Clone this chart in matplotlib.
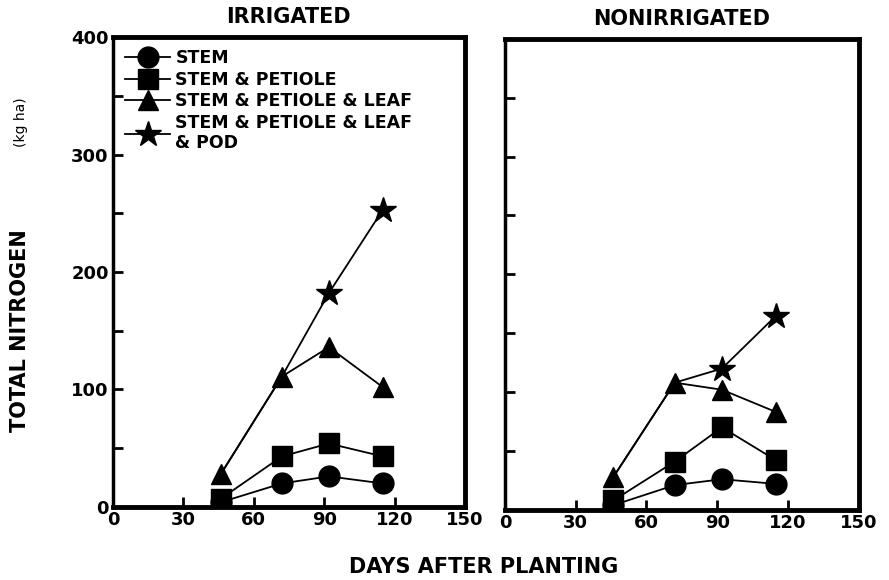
import matplotlib
matplotlib.use('Agg')
import matplotlib.pyplot as plt
from matplotlib.lines import Line2D

plt.rcParams['font.family'] = 'DejaVu Sans'
plt.rcParams['font.weight'] = 'bold'

# days after planting for each sampling
days = [46, 72, 92, 115]

# irrigated (kg/ha), cumulative by plant part
irr_stem = [4, 20, 26, 20]
irr_petiole = [7, 43, 54, 43]
irr_leaf = [28, 111, 136, 102]
irr_pod = [28, 111, 182, 253]

# nonirrigated
non_stem = [4, 21, 26, 22]
non_petiole = [8, 41, 70, 42]
non_leaf = [28, 108, 102, 83]
non_pod = [28, 108, 120, 165]

x_ticks = [0, 30, 60, 90, 120, 150]
y_ticks = [0, 50, 100, 150, 200, 250, 300, 350, 400]
y_ticklabels = ['0', '', '100', '', '200', '', '300', '', '400']
labels = ['STEM', 'STEM & PETIOLE', 'STEM & PETIOLE & LEAF',
          'STEM & PETIOLE & LEAF\n& POD']
markers = ['o', 's', '^', '*']
msizes = [15, 14, 15, 19]

fig = plt.figure(figsize=(8.89, 5.8), dpi=100)
ax1 = fig.add_axes([0.127, 0.126, 0.396, 0.81])
ax2 = fig.add_axes([0.568, 0.121, 0.398, 0.812])


def draw_panel(ax, stem, petiole, leaf, pod):
    #Stars only where the pods are added, the rest is hidden under triangles
    ax.plot(days, pod, color='black', lw=1.3, marker='*', ms=msizes[3],
            markevery=[2, 3], zorder=2)
    ax.plot(days, leaf, color='black', lw=1.3, marker='^', ms=msizes[2], zorder=3)
    ax.plot(days, petiole, color='black', lw=1.3, marker='s', ms=msizes[1], zorder=4)
    ax.plot(days, stem, color='black', lw=1.3, marker='o', ms=msizes[0], zorder=5)
    ax.set_xlim(0, 150)
    ax.set_ylim(0, 400)
    ax.set_xticks(x_ticks)
    ax.set_yticks(y_ticks)
    ax.tick_params(direction='in', length=7, width=2, labelsize=13, pad=3)
    for side in ['top', 'right', 'bottom']:
        ax.spines[side].set_linewidth(3.5)
    ax.spines['left'].set_linewidth(2.5)


draw_panel(ax1, irr_stem, irr_petiole, irr_leaf, irr_pod)
draw_panel(ax2, non_stem, non_petiole, non_leaf, non_pod)

#Only every other y tick is labelled on the left panel
ax1.set_yticklabels(y_ticklabels)
ax2.set_yticklabels([])

# legend handles built by hand so every marker shows
leg_handles = [Line2D([], [], color='black', lw=1.3, marker=m, ms=s)
               for m, s in zip(markers, msizes)]
ax1.legend(leg_handles, labels, loc='upper left', bbox_to_anchor=(0.0, 1.0),
           frameon=False, fontsize=12.5, handlelength=2.6, handletextpad=0.3,
           labelspacing=0.2, borderaxespad=0.3)

ax1.set_title('IRRIGATED', fontsize=15, fontweight='bold', pad=10)
ax2.set_title('NONIRRIGATED', fontsize=15, fontweight='bold', pad=10)

fig.text(0.022, 0.43, 'TOTAL NITROGEN', rotation=90, ha='center', va='center',
         fontsize=15, fontweight='bold')
fig.text(0.024, 0.79, '(kg ha)', rotation=90, ha='center', va='center',
         fontsize=10, fontweight='normal')
fig.text(0.544, 0.022, 'DAYS AFTER PLANTING', ha='center', va='center',
         fontsize=15, fontweight='bold')

plt.savefig('out.png', dpi=100)
